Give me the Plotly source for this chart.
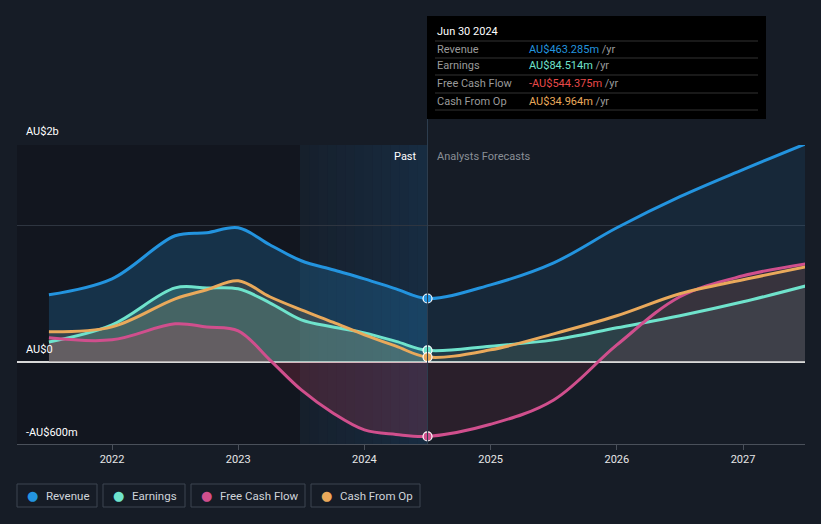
import plotly.graph_objects as go

# half-year points (decimal years), Jun 2021 -> Jun 2027
years = [2021.5, 2022.0, 2022.5, 2022.75, 2023.0, 2023.25, 2023.5, 2023.75,
         2024.0, 2024.25, 2024.5, 2025.0, 2025.5, 2026.0, 2026.5, 2027.0, 2027.5]
# values in AU$ millions
revenue = [490, 607, 922, 944, 980, 856, 739, 673, 607, 534, 463.285,
           563, 724, 980, 1207, 1405, 1595]
earnings = [146, 271, 541, 540, 534, 432, 307, 255, 212, 150, 84.514,
            115, 161, 249, 337, 439, 556]
fcf = [176, 161, 278, 255, 227, 15, -205, -373, -497, -530, -544.375,
       -456, -278, 124, 476, 629, 717]
cfo = [220, 256, 461, 527, 593, 476, 380, 290, 198, 115, 34.964,
       88, 205, 337, 498, 600, 695]

names = ["Revenue", "Earnings", "Free Cash Flow", "Cash From Op"]
colors = ["#2394df", "#6fe3cc", "#d04f8d", "#e9a95b"]
fills_past = ["rgba(35,148,223,0.22)", "rgba(111,227,204,0.22)",
              "rgba(200,60,90,0.22)", "rgba(233,169,91,0.15)"]
fills_fc = ["rgba(35,148,223,0.10)", "rgba(111,227,204,0.10)",
            "rgba(190,60,80,0.12)", "rgba(233,169,91,0.07)"]
tip_values = ["AU$463.285m", "AU$84.514m", "-AU$544.375m", "AU$34.964m"]
tip_colors = ["#2394df", "#6fe3cc", "#e84a4a", "#e9a95b"]
cut = 2024.5

BG = "#161c26"
W, H = 821, 524
L, R, T, B = 17, 805, 145, 444


def px(x):
    return (x - L) / (R - L)


def py(y):
    return (B - y) / (B - T)


fig = go.Figure()
series = [revenue, earnings, fcf, cfo]

# fills (split past / forecast)
for s, fp, ff in zip(series, fills_past, fills_fc):
    xp = [x for x in years if x <= cut]
    yp = [v for x, v in zip(years, s) if x <= cut]
    xf = [x for x in years if x >= cut]
    yf = [v for x, v in zip(years, s) if x >= cut]
    fig.add_trace(go.Scatter(x=xp, y=yp, mode="lines", line=dict(width=0, shape="spline"),
                             fill="tozeroy", fillcolor=fp, hoverinfo="skip", showlegend=False))
    fig.add_trace(go.Scatter(x=xf, y=yf, mode="lines", line=dict(width=0, shape="spline"),
                             fill="tozeroy", fillcolor=ff, hoverinfo="skip", showlegend=False))

# lines
for s, c, n in zip(series, colors, names):
    fig.add_trace(go.Scatter(x=years, y=s, mode="lines", name=n,
                             line=dict(color=c, width=3, shape="spline"), showlegend=False))
    fig.add_trace(go.Scatter(x=[cut], y=[s[years.index(cut)]], mode="markers",
                             marker=dict(color=c, size=9, line=dict(color="white", width=1.2)),
                             showlegend=False, hoverinfo="skip"))

shapes = []
# darker older past
shapes.append(dict(type="rect", xref="paper", yref="paper", x0=0, x1=px(300), y0=0, y1=1,
                   fillcolor="rgba(0,0,0,0.18)", line_width=0, layer="below"))
# last-year highlight gradient
n = 14
for i in range(n):
    x0 = 300 + (427 - 300) * i / n
    x1 = 300 + (427 - 300) * (i + 1) / n
    shapes.append(dict(type="rect", xref="paper", yref="paper", x0=px(x0), x1=px(x1), y0=0, y1=1,
                       fillcolor=f"rgba(30,95,150,{0.06 + 0.2 * i / n:.3f})", line_width=0, layer="below"))
# divider line
shapes.append(dict(type="line", xref="x", yref="paper", x0=cut, x1=cut, y0=0, y1=py(119),
                   line=dict(color="#2e3e50", width=1)))
# tooltip box
shapes.append(dict(type="rect", xref="paper", yref="paper", x0=px(427), x1=px(766),
                   y0=py(119), y1=py(16), fillcolor="#000000", line_width=0))
for yy in [41, 58, 75, 93, 110]:
    shapes.append(dict(type="line", xref="paper", yref="paper", x0=px(435), x1=px(758),
                       y0=py(yy), y1=py(yy), line=dict(color="#333333", width=1)))
# legend boxes
boxes = [(17, 97), (103, 185), (191, 305), (311, 420)]
for x0, x1 in boxes:
    shapes.append(dict(type="rect", xref="paper", yref="paper", x0=px(x0), x1=px(x1),
                       y0=py(507), y1=py(484), line=dict(color="#3c4450", width=1),
                       fillcolor="rgba(0,0,0,0)"))

ann = []
font = "Roboto, sans-serif"
ann.append(dict(x=px(435), y=py(31), xref="paper", yref="paper", text="Jun 30 2024",
                showarrow=False, xanchor="left", yanchor="middle",
                font=dict(family=font, size=11, color="#ffffff")))
for i, yy in enumerate([49, 66, 84, 101]):
    ann.append(dict(x=px(435), y=py(yy), xref="paper", yref="paper", text=names[i],
                    showarrow=False, xanchor="left", yanchor="middle",
                    font=dict(family=font, size=11, color="#9a9a9a")))
    ann.append(dict(x=px(527), y=py(yy), xref="paper", yref="paper",
                    text=f"<span style='color:{tip_colors[i]}'>{tip_values[i]}</span> /yr",
                    showarrow=False, xanchor="left", yanchor="middle",
                    font=dict(family=font, size=11, color="#9a9a9a")))
# y labels
for txt, yy in [("AU$2b", 131), ("AU$0", 349), ("-AU$600m", 432)]:
    ann.append(dict(x=px(24), y=py(yy), xref="paper", yref="paper", text=txt, showarrow=False,
                    xanchor="left", yanchor="middle", font=dict(family=font, size=11, color="#ffffff")))
ann.append(dict(x=px(419), y=py(156), xref="paper", yref="paper", text="Past", showarrow=False,
                xanchor="right", yanchor="middle", font=dict(family=font, size=11, color="#ffffff")))
ann.append(dict(x=px(435), y=py(156), xref="paper", yref="paper", text="Analysts Forecasts",
                showarrow=False, xanchor="left", yanchor="middle",
                font=dict(family=font, size=11, color="#8a8f96")))
# legend texts
for (x0, x1), c, nm in zip(boxes, colors, names):
    ann.append(dict(x=px(x0 + 15), y=py(495.5), xref="paper", yref="paper", text="●",
                    showarrow=False, xanchor="center", yanchor="middle",
                    font=dict(family="DejaVu Sans", size=13, color=c)))
    ann.append(dict(x=px(x0 + 27), y=py(495.5), xref="paper", yref="paper", text=nm,
                    showarrow=False, xanchor="left", yanchor="middle",
                    font=dict(family=font, size=11.5, color="#d0d4da")))

fig.update_layout(
    width=W, height=H,
    margin=dict(l=L, r=W - R, t=T, b=H - B),
    paper_bgcolor=BG, plot_bgcolor=BG,
    shapes=shapes, annotations=ann,
    xaxis=dict(range=[2021.247, 2027.491], tickvals=[2022, 2023, 2024, 2025, 2026, 2027],
               ticktext=["2022", "2023", "2024", "2025", "2026", "2027"],
               showgrid=False, zeroline=False, showline=True, linecolor="#4a505a",
               ticks="outside", ticklen=5, tickcolor="#4a505a",
               tickfont=dict(family=font, size=11, color="#e6e6e6")),
    yaxis=dict(range=[-600, 1585], tickvals=[1000, 1585], showticklabels=False,
               showgrid=True, gridcolor="#2e3540", gridwidth=1,
               zeroline=True, zerolinecolor="#d8d8d8", zerolinewidth=1.5),
    showlegend=False,
)

fig.write_html("out.html", config={"displayModeBar": False},
               post_script="document.body.style.margin='0';")
